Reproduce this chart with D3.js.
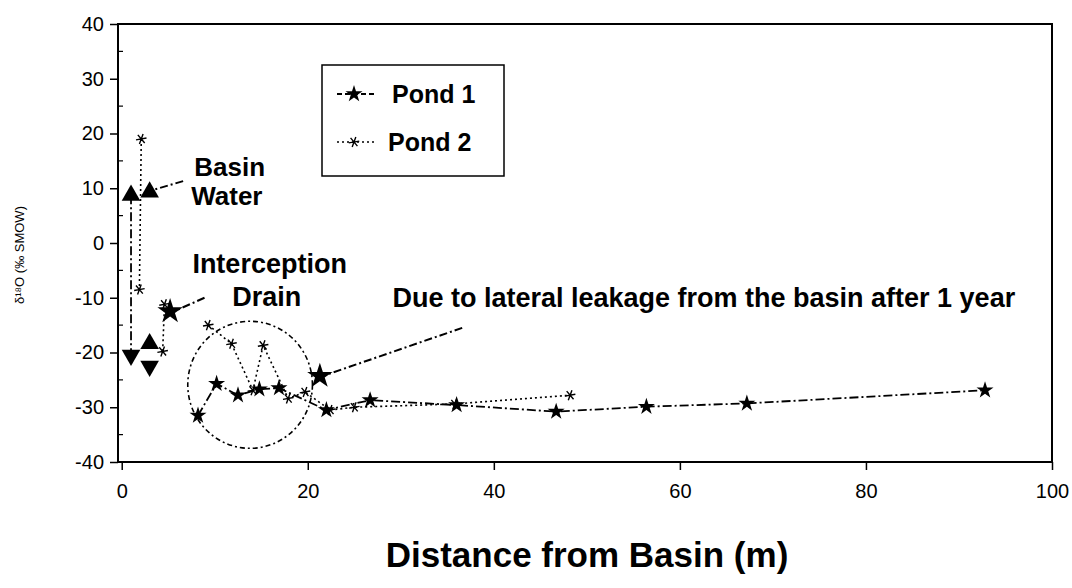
<!DOCTYPE html>
<html><head><meta charset="utf-8">
<script src="https://cdn.jsdelivr.net/npm/d3@7/dist/d3.min.js"></script>
<style>body{margin:0;background:#fff}svg{display:block}text{font-family:"Liberation Sans",Arial,Helvetica,sans-serif}</style>
</head><body><svg id="c" width="1072" height="588"></svg>
<script>
// ---- data ----
const xTicks = [0, 20, 40, 60, 80, 100];
const yTicks = [-40, -30, -20, -10, 0, 10, 20, 30, 40];
// null = gap in the line
const pond1X = [1, 1, null, 3, null, 3, null, 3, null, 5.2, null, 21.3, null, 8.2, 10.2, 12.5, 14.8, 16.9, 22.0, 26.7, 36.0, 46.7, 56.4, 67.2, 92.8];
const pond1Y = [8.7, -20.5, null, 9.3, null, -18.4, null, -22.5, null, -12.5, null, -24.3, null, -31.5, -25.7, -27.8, -26.7, -26.5, -30.5, -28.7, -29.6, -30.8, -29.9, -29.3, -26.9];
const pond2X = [2.1, 1.9, null, 4.6, 4.4, null, 9.3, 11.8, 14.1, 15.2, 17.9, 19.7, 22.4, 25.0, 35.8, 48.2];
const pond2Y = [19.0, -8.5, null, -11.2, -19.8, null, -15.0, -18.4, -26.9, -18.7, -28.4, -27.2, -30.5, -30.0, -29.4, -27.8];
const seriesNames = ["Pond 1", "Pond 2"];
const xTitle = "Distance from Basin (m)";
const yTitle = "δ¹⁸O (‰ SMOW)";
const labelText = ["Basin", "Water", "Interception", "Drain", "Due to lateral leakage from the basin after 1 year"];
const labelX = [11.6, 11.3, 15.9, 15.6, 29.1];
const labelY = [12.2, 6.9, -5.5, -11.5, -11.7];
const arrowFromX = [6.6, 8.9, 36.6];
const arrowFromY = [11.3, -10.0, -15.5];
const arrowToX = [3.2, 5.6, 21.6];
const arrowToY = [9.6, -12.5, -24.3];
const circleCX = 13.8, circleCY = -25.9, circleRX = 6.7, circleRY = 11.6;

// ---- layout ----
const svg = d3.select("#c");
const L = 118, R = 1052, T = 24, B = 462;
const x = d3.scaleLinear().domain([-0.4, 100]).range([L, R]);
const y = d3.scaleLinear().domain([-40, 40]).range([B, T]);

const zip = (xs, ys) => xs.map((v, i) => ({x: v, y: ys[i], i}));
const p1 = zip(pond1X, pond1Y), p2 = zip(pond2X, pond2Y);

// frame
svg.append("rect").attr("x", L).attr("y", T).attr("width", R - L).attr("height", B - T)
  .attr("fill", "none").attr("stroke", "#000").attr("stroke-width", 2);

// y axis
const yAxis = d3.axisLeft(y).tickValues(yTicks).tickSize(8).tickPadding(6).tickFormat(d => String(d));
const ga = svg.append("g").attr("transform", `translate(${L},0)`).call(yAxis);
ga.select(".domain").remove();
ga.selectAll("line").attr("stroke-width", 1.5);
ga.selectAll("text").attr("font-size", 20).attr("fill", "#000");
svg.append("g").selectAll("line").data(d3.range(-35, 40, 10)).join("line")
  .attr("x1", L).attr("x2", L + 5).attr("y1", d => y(d)).attr("y2", d => y(d)).attr("stroke", "#000").attr("stroke-width", 1.2);

// x axis
const xAxis = d3.axisBottom(x).tickValues(xTicks).tickSize(8).tickPadding(14).tickFormat(d => String(d));
const gx = svg.append("g").attr("transform", `translate(0,${B})`).call(xAxis);
gx.select(".domain").remove();
gx.selectAll("line").attr("stroke-width", 1.5);
gx.selectAll("text").attr("font-size", 20).attr("fill", "#000");

// titles
svg.append("text").attr("x", 587).attr("y", 567).attr("text-anchor", "middle")
  .attr("font-size", 35).attr("font-weight", "bold").text(xTitle);
svg.append("text").attr("transform", `translate(24,255) rotate(-90)`).attr("text-anchor", "middle")
  .attr("font-size", 13).text(yTitle);

// circle annotation
svg.append("ellipse").attr("cx", x(circleCX)).attr("cy", y(circleCY))
  .attr("rx", x(circleCX + circleRX) - x(circleCX)).attr("ry", y(circleCY - circleRY) - y(circleCY))
  .attr("fill", "none").attr("stroke", "#000").attr("stroke-width", 1.6).attr("stroke-dasharray", "5,3,2,3");

// lines
const line = d3.line().defined(d => d.y != null).x(d => x(d.x)).y(d => y(d.y));
svg.append("path").attr("d", line(p1)).attr("fill", "none").attr("stroke", "#000")
  .attr("stroke-width", 1.8).attr("stroke-dasharray", "9,3,2,3");
svg.append("path").attr("d", line(p2)).attr("fill", "none").attr("stroke", "#000")
  .attr("stroke-width", 1.6).attr("stroke-dasharray", "2,3");

// arrows
const arrows = arrowFromX.map((v, i) => ({x1: v, y1: arrowFromY[i], x2: arrowToX[i], y2: arrowToY[i]}));
svg.append("g").selectAll("line").data(arrows).join("line")
  .attr("x1", d => x(d.x1)).attr("y1", d => y(d.y1)).attr("x2", d => x(d.x2)).attr("y2", d => y(d.y2))
  .attr("stroke", "#000").attr("stroke-width", 2).attr("stroke-dasharray", "8,3,2,3");

// markers pond 1
const triUp = d3.symbol().type(d3.symbolTriangle).size(150)();
const star = d3.symbol().type(d3.symbolStar).size(90)();
const bigStar = d3.symbol().type(d3.symbolStar).size(200)();
function p1Shape(k) {
  if (k <= 4) return triUp;              // early vertical-arrow points
  if (k === 5 || k === 6) return bigStar; // arrow targets
  return star;
}
const p1pts = p1.filter(d => d.y != null);
svg.append("g").selectAll("path").data(p1pts).join("path")
  .attr("d", (d, k) => p1Shape(k))
  .attr("transform", (d, k) => {
    const down = (k === 1 || k === 4);
    return `translate(${x(d.x)},${y(d.y)}) rotate(${down ? 180 : 0})`;
  })
  .attr("fill", "#000");

// markers pond 2
const xs = d3.symbol().type(d3.symbolAsterisk).size(80)();
svg.append("g").selectAll("path").data(p2.filter(d => d.y != null)).join("path")
  .attr("d", xs).attr("transform", d => `translate(${x(d.x)},${y(d.y)}) rotate(20)`)
  .attr("fill", "none").attr("stroke", "#000").attr("stroke-width", 1.4);

// labels
svg.append("g").selectAll("text").data(labelText).join("text")
  .attr("x", (d, i) => x(labelX[i])).attr("y", (d, i) => y(labelY[i]))
  .attr("text-anchor", (d, i) => i === 4 ? "start" : "middle")
  .attr("font-size", (d, i) => i < 2 ? 26 : 27).attr("font-weight", "bold").text(d => d);

// legend
const lg = svg.append("g");
lg.append("rect").attr("x", 322).attr("y", 65).attr("width", 182).attr("height", 111)
  .attr("fill", "#fff").attr("stroke", "#000").attr("stroke-width", 1.5);
const legY = [94, 142];
seriesNames.forEach((n, i) => {
  lg.append("line").attr("x1", 337).attr("x2", 374).attr("y1", legY[i]).attr("y2", legY[i])
    .attr("stroke", "#000").attr("stroke-width", i ? 1.6 : 1.8).attr("stroke-dasharray", i ? "2,3" : "5,3");
  const m = lg.append("path").attr("transform", `translate(354,${legY[i]})${i ? " rotate(20)" : ""}`);
  if (i === 0) m.attr("d", star).attr("fill", "#000");
  else m.attr("d", xs).attr("fill", "none").attr("stroke", "#000").attr("stroke-width", 1.4);
  lg.append("text").attr("x", i ? 388 : 392).attr("y", legY[i] + 9).attr("font-size", 25)
    .attr("font-weight", "bold").text(n);
});
</script></body></html>
